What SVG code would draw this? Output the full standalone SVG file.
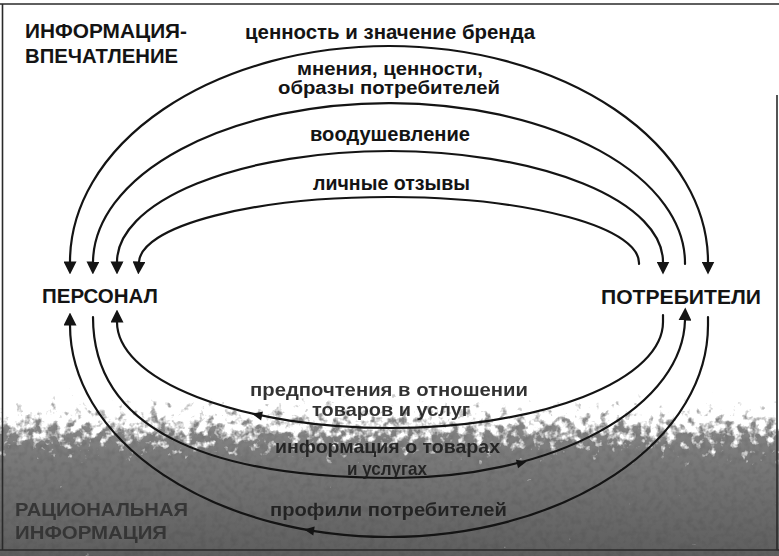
<svg xmlns="http://www.w3.org/2000/svg" width="779" height="556" viewBox="0 0 779 556">
<style>
  .lbl{font-family:"Liberation Sans","Arial",sans-serif;font-weight:bold;font-size:20px;fill:#141414;text-anchor:middle}
  .lbl2{font-family:"Liberation Sans","Arial",sans-serif;font-weight:bold;font-size:18px;fill:#141414;text-anchor:middle}
  .cap{font-family:"Liberation Sans","Arial",sans-serif;font-weight:bold;font-size:20px;fill:#141414}
  .low{font-family:"Liberation Sans","Arial",sans-serif;font-weight:bold;font-size:19px;fill:#1c1c1c;text-anchor:middle;opacity:0.9}
  .rat{font-family:"Liberation Sans","Arial",sans-serif;font-weight:bold;font-size:19px;fill:#2e2e2e;opacity:0.85}
  .flow{fill:none;stroke:#141414;stroke-width:2.2;stroke-linecap:round}
  .frame{stroke:#2a2a2a;stroke-width:1.6;fill:none}
</style>
<defs>
  <marker id="ah" markerUnits="userSpaceOnUse" viewBox="0 0 13 13" markerWidth="13" markerHeight="13" refX="0.5" refY="6.5" orient="auto-start-reverse">
    <path d="M0,0 L13,6.5 L0,13 z" fill="#141414"/>
  </marker>
  <linearGradient id="fade" x1="0" y1="362" x2="0" y2="472" gradientUnits="userSpaceOnUse">
    <stop offset="0" stop-color="#fff" stop-opacity="0"/>
    <stop offset="1" stop-color="#fff" stop-opacity="1"/>
  </linearGradient>
  <filter id="speck" x="0" y="350" width="779" height="206" filterUnits="userSpaceOnUse" color-interpolation-filters="sRGB">
    <feTurbulence type="fractalNoise" baseFrequency="0.12" numOctaves="3" seed="4" result="n"/>
    <feColorMatrix in="n" type="matrix" values="0 0 0 0 0  0 0 0 0 0  0 0 0 0 0  1 0 0 0 0" result="na"/>
    <feComposite in="SourceAlpha" in2="na" operator="arithmetic" k1="0" k2="5" k3="4" k4="-4.6" result="m"/>
    <feFlood flood-color="#ffffff"/>
    <feComposite in2="m" operator="in"/>
  </filter>
  <mask id="grassMask" maskUnits="userSpaceOnUse" x="0" y="0" width="779" height="556">
    <rect x="0" y="350" width="779" height="206" fill="url(#fade)" filter="url(#speck)"/>
  </mask>
  <linearGradient id="grayG" x1="0" y1="370" x2="0" y2="556" gradientUnits="userSpaceOnUse">
    <stop offset="0" stop-color="#a0a0a0"/>
    <stop offset="0.45" stop-color="#7a7a7a"/>
    <stop offset="1" stop-color="#5e5e5e"/>
  </linearGradient>
  <filter id="mottle" x="0" y="350" width="779" height="206" filterUnits="userSpaceOnUse" color-interpolation-filters="sRGB">
    <feTurbulence type="fractalNoise" baseFrequency="0.16" numOctaves="2" seed="9" result="n"/>
    <feColorMatrix in="n" type="matrix" values="0 0 0 0 0.2  0 0 0 0 0.2  0 0 0 0 0.2  -1.6 0 0 0 0.9"/>
  </filter>
</defs>

<rect width="779" height="556" fill="#ffffff"/>

<g id="background">
  <rect x="0" y="350" width="779" height="206" fill="url(#grayG)" mask="url(#grassMask)"/>
  <g mask="url(#grassMask)">
    <rect x="0" y="350" width="779" height="206" fill="#000" filter="url(#mottle)" opacity="0.22"/>
  </g>
</g>

<g id="frame">
  <line class="frame" x1="0" y1="4" x2="779" y2="4"/>
  <line class="frame" x1="2.5" y1="4" x2="2.5" y2="550"/>
  <line class="frame" x1="777" y1="95" x2="777" y2="550"/>
  <line class="frame" x1="0" y1="550" x2="779" y2="550"/>
</g>

<g id="connectors">
  <path class="flow" d="M70,262 A319,216 0 0 1 708,262" marker-start="url(#ah)" marker-end="url(#ah)"/>
  <path class="flow" d="M93,262 A296,160 0 0 1 685,264" marker-start="url(#ah)"/>
  <path class="flow" d="M117,262 A273,111 0 0 1 663,262" marker-start="url(#ah)" marker-end="url(#ah)"/>
  <path class="flow" d="M139,262 A250,66 0 0 1 639,264" marker-start="url(#ah)"/>

  <path class="flow" d="M117,322 A273,106 0 0 0 663,322 L663,315" marker-start="url(#ah)"/>
  <path class="flow" d="M93,317 C93,428 205,478 395,478 A290,160 0 0 0 685,320" marker-end="url(#ah)"/>
  <path class="flow" d="M70,325 A319,212 0 0 0 708,325 L708,317" marker-start="url(#ah)"/>

  <path d="M0,-4.5 L10,0 L0,4.5 z" fill="#141414" transform="translate(262,416) rotate(-168.5)"/>
  <path d="M0,-4.5 L10,0 L0,4.5 z" fill="#141414" transform="translate(517,464) rotate(-13.8)"/>
  <path d="M0,-4.5 L10,0 L0,4.5 z" fill="#141414" transform="translate(314,531) rotate(-171)"/>
</g>

<g id="label-impression">
  <text class="cap" x="25" y="38" textLength="162" lengthAdjust="spacingAndGlyphs">ИНФОРМАЦИЯ-</text>
  <text class="cap" x="25" y="63" textLength="153" lengthAdjust="spacingAndGlyphs">ВПЕЧАТЛЕНИЕ</text>
</g>

<g id="label-rational">
  <text class="rat" x="15" y="516" textLength="173" lengthAdjust="spacingAndGlyphs">РАЦИОНАЛЬНАЯ</text>
  <text class="rat" x="15" y="539" textLength="152" lengthAdjust="spacingAndGlyphs">ИНФОРМАЦИЯ</text>
</g>

<g id="personnel">
  <text class="cap" x="42" y="303" textLength="116" lengthAdjust="spacingAndGlyphs">ПЕРСОНАЛ</text>
</g>

<g id="consumers">
  <text class="cap" x="601" y="304" textLength="160" lengthAdjust="spacingAndGlyphs">ПОТРЕБИТЕЛИ</text>
</g>

<g id="connector-labels">
  <text class="lbl" x="390" y="39" textLength="290" lengthAdjust="spacingAndGlyphs">ценность и значение бренда</text>
  <text class="lbl2" x="390" y="75" textLength="186" lengthAdjust="spacingAndGlyphs">мнения, ценности,</text>
  <text class="lbl2" x="389" y="94" textLength="222" lengthAdjust="spacingAndGlyphs">образы потребителей</text>
  <text class="lbl" x="390" y="141" textLength="160" lengthAdjust="spacingAndGlyphs">воодушевление</text>
  <text class="lbl" x="391.5" y="190" textLength="157" lengthAdjust="spacingAndGlyphs">личные отзывы</text>

  <text class="low" x="389" y="396" textLength="278" lengthAdjust="spacingAndGlyphs">предпочтения в отношении</text>
  <text class="low" x="391" y="416" textLength="158" lengthAdjust="spacingAndGlyphs">товаров и услуг</text>
  <text class="low" x="387.5" y="453" textLength="225" lengthAdjust="spacingAndGlyphs">информация о товарах</text>
  <text class="low" x="387" y="475" textLength="80" lengthAdjust="spacingAndGlyphs">и услугах</text>
  <text class="low" x="388.5" y="516" textLength="237" lengthAdjust="spacingAndGlyphs">профили потребителей</text>
</g>
</svg>
